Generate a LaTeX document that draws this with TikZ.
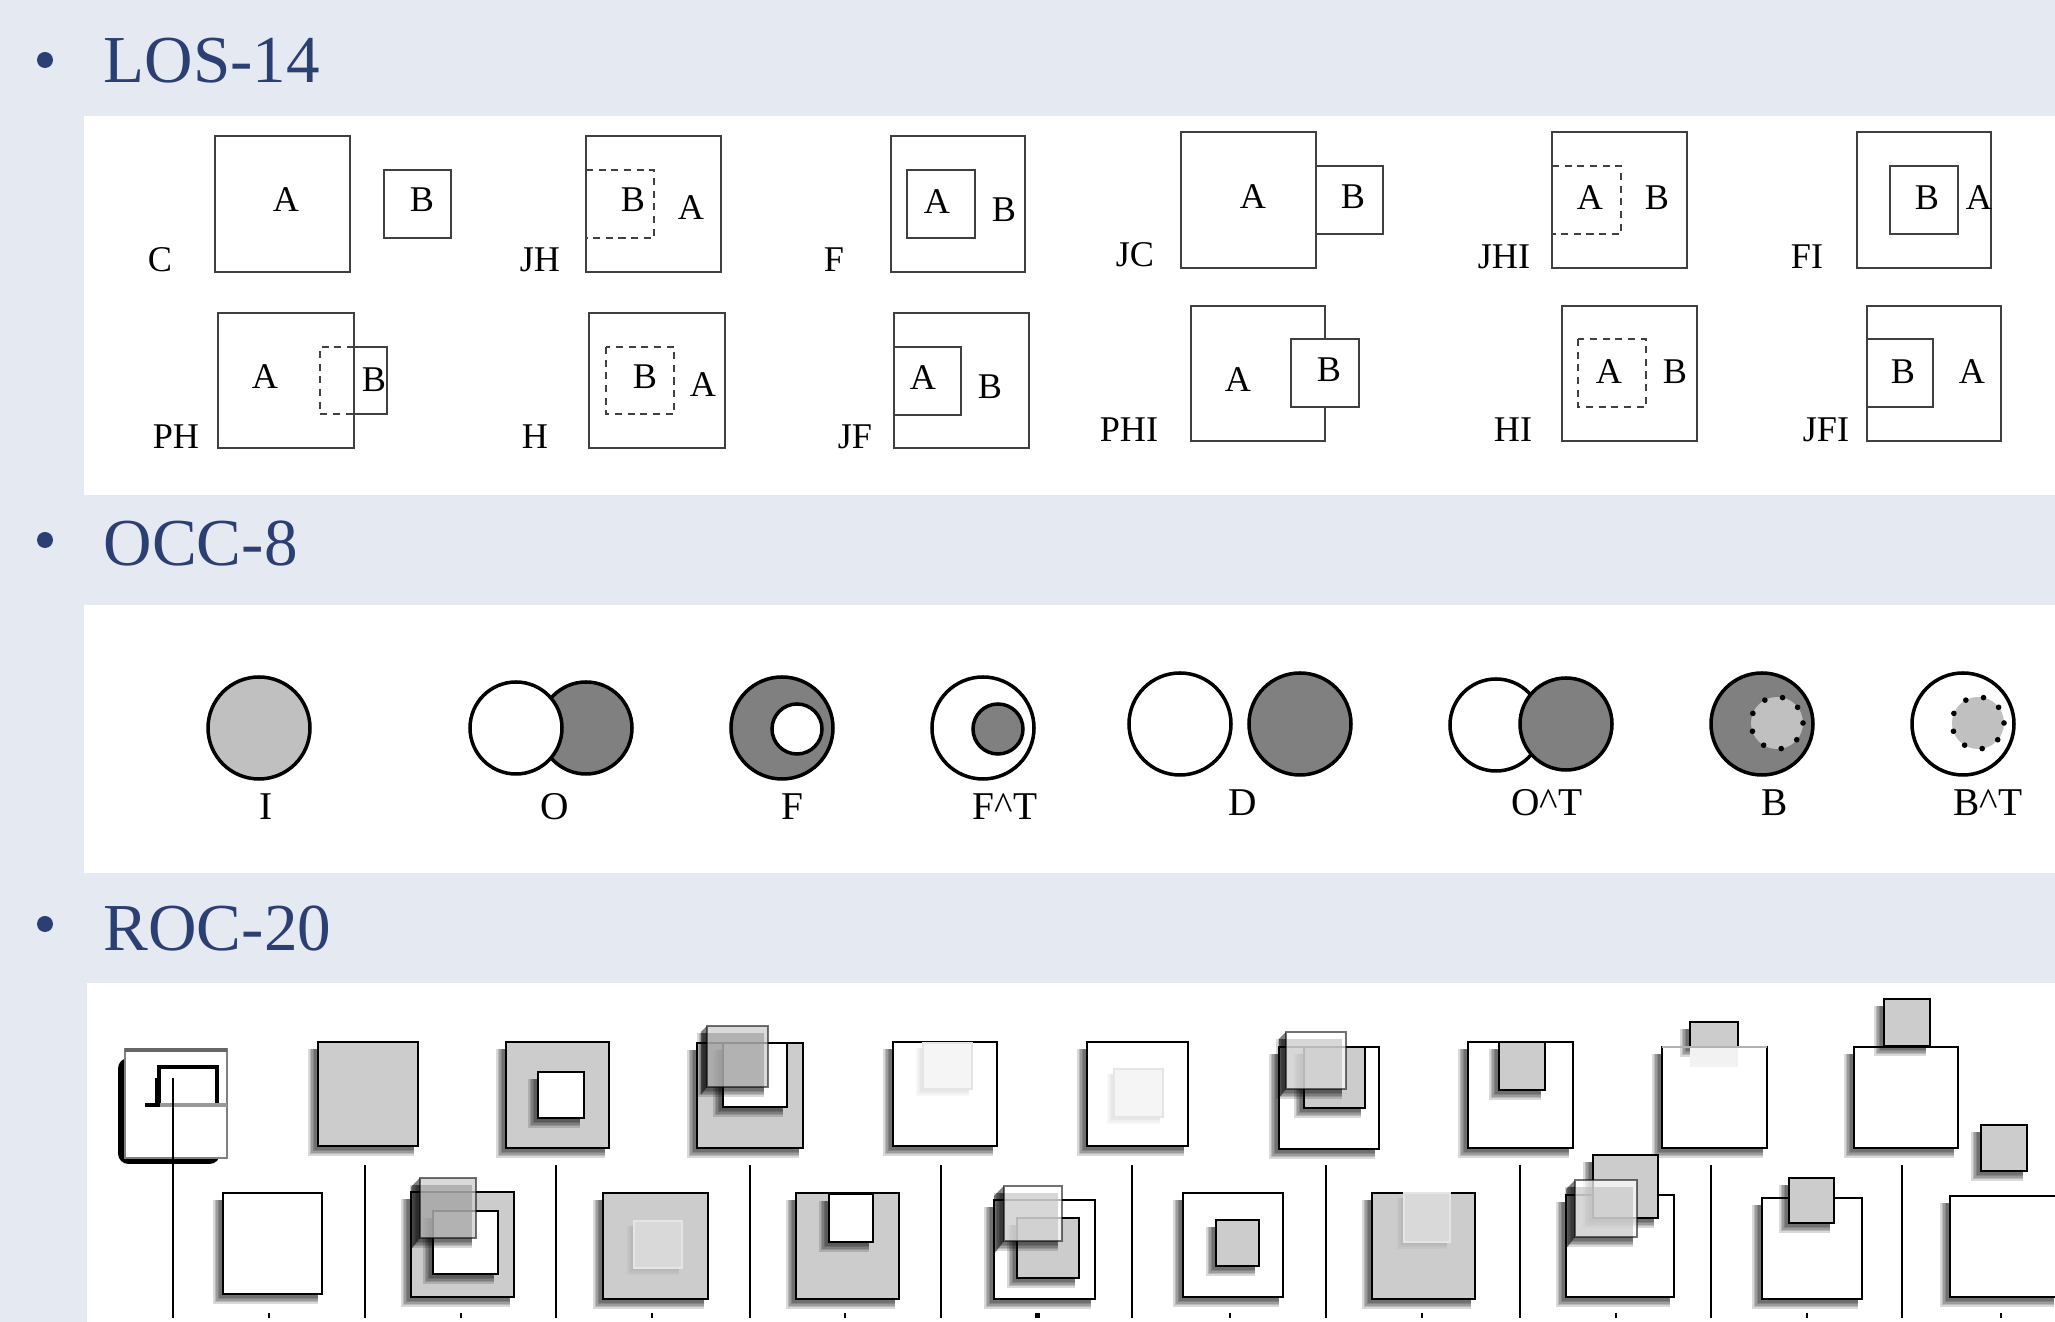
\documentclass[tikz,border=0pt]{standalone}
\usepackage{fontspec}
\setmainfont{Liberation Serif}
\definecolor{bgc}{RGB}{229,233,242}
\definecolor{titlec}{RGB}{43,63,115}
\definecolor{occdark}{RGB}{128,128,128}
\definecolor{occlight}{RGB}{192,192,192}
\definecolor{rgray}{RGB}{204,204,204}
\newcommand\TitleFnt{\fontsize{19.1}{23}\selectfont}
\newcommand\LosFnt{\fontsize{10.3}{12}\selectfont}
\newcommand\OccFnt{\fontsize{11.2}{13}\selectfont}
\newcommand\RShadow[4]{%
  \foreach \k in {0,1.5,3,4.5,6}{%
    \fill[black,opacity=0.15] ({#1-4-\k},{#2+7}) rectangle ({#3-4},{#4+4+\k});
  }%
}
\newcommand\RBox[5][white]{%
  \RShadow{#2}{#3}{#4}{#5}%
  \filldraw[rocline,fill=#1] (#2,#3) rectangle (#4,#5);%
}
\newcommand\RFaint[5][white]{%
  \foreach \k in {0,2,4}{%
    \fill[black,opacity=0.03] ({#2-3-\k},{#3+5}) rectangle ({#4-3},{#5+3+\k});
  }%
  \filldraw[fill=#1,draw=black!10,line width=0.6pt] (#2,#3) rectangle (#4,#5);%
}
\newcommand\RCube[6]{%
  \RShadow{#2}{#3}{#4}{#5}%
  \fill[black,opacity=0.5] (#6,{#3+#2-#6}) -- (#2,#3) -- (#2,#5) -- (#6,{#5+1.3*(#2-#6)}) -- cycle;
  \fill[#1,opacity=0.72] (#2,#3) rectangle (#4,#5);
  \draw[black,opacity=0.55,line width=0.7pt] (#2,#3) rectangle (#4,#5);%
}
\begin{document}
\begin{tikzpicture}[x=0.1mm,y=-0.1mm,
  los/.style={draw=black!75,line width=0.5pt},
  losdash/.style={draw=black!75,line width=0.5pt,dash pattern=on 2pt off 1.6pt},
  lbl/.style={inner sep=0pt,font=\LosFnt},
  occ/.style={draw=black,line width=1pt},
  occdot/.style={draw=black,line width=1.6pt,dash pattern=on 0pt off 5.2pt,line cap=round},
  occlbl/.style={inner sep=0pt,font=\OccFnt},
  titlenode/.style={inner sep=0pt,anchor=base west,text=titlec,font=\TitleFnt},
  rocline/.style={draw=black,line width=0.75pt},
  vline/.style={draw=black,line width=0.8pt},
  tick/.style={draw=black,line width=0.6pt}]
\fill[bgc] (0,0) rectangle (2055,1322);
\useasboundingbox (0,0) rectangle (2055,1322);
% panels
\fill[white] (84,116) rectangle (2055,495);
\fill[white] (84,605) rectangle (2055,873);
\fill[white] (87,983) rectangle (2055,1322);
% titles
\fill[titlec] (45,60) circle[radius=8];
\node[titlenode] (t1) at (103,83) {LOS-14};
\fill[titlec] (45,540) circle[radius=8];
\node[titlenode] (t2) at (103,566) {OCC-8};
\fill[titlec] (45,924) circle[radius=8];
\node[titlenode] (t3) at (103,951) {ROC-20};

% ---------------- LOS-14 ----------------
% C
\draw[los] (215,136) rectangle (350,272);
\draw[los] (384,170) rectangle (451,238);
\node[lbl] (cA) at (286,200) {A};
\node[lbl] (cB) at (422,200) {B};
\node[lbl] (cL) at (160,260) {C};
% JH
\draw[los] (586,136) rectangle (721,272);
\draw[losdash] (586,170) -- (654,170) -- (654,238) -- (586,238);
\node[lbl] (jhB) at (633,200) {B};
\node[lbl] (jhA) at (691,208) {A};
\node[lbl] (jhL) at (540,260) {JH};
% F
\draw[los] (891,136) rectangle (1025,272);
\draw[los] (907,170) rectangle (975,238);
\node[lbl] (fA) at (937,202) {A};
\node[lbl] (fB) at (1004,210) {B};
\node[lbl] (fL) at (834,260) {F};
% JC
\draw[los] (1181,132) rectangle (1316,268);
\draw[los] (1316,166) -- (1383,166) -- (1383,234) -- (1316,234);
\node[lbl] (jcA) at (1253,197) {A};
\node[lbl] (jcB) at (1353,197) {B};
\node[lbl] (jcL) at (1135,255) {JC};
% JHI
\draw[los] (1552,132) rectangle (1687,268);
\draw[losdash] (1552,166) -- (1621,166) -- (1621,234) -- (1552,234);
\node[lbl] (jhiA) at (1590,198) {A};
\node[lbl] (jhiB) at (1657,198) {B};
\node[lbl] (jhiL) at (1504,257) {JHI};
% FI
\draw[los] (1857,132) rectangle (1991,268);
\draw[los] (1890,166) rectangle (1958,234);
\node[lbl] (fiB) at (1927,198) {B};
\node[lbl] (fiA) at (1979,198) {A};
\node[lbl] (fiL) at (1807,257) {FI};
% PH
\draw[los] (218,313) rectangle (354,448);
\draw[losdash] (354,347) -- (320,347) -- (320,414) -- (354,414);
\draw[los] (354,347) -- (387,347) -- (387,414) -- (354,414);
\node[lbl] (phA) at (265,377) {A};
\node[lbl] (phB) at (374,380) {B};
\node[lbl] (phL) at (176,437) {PH};
% H
\draw[los] (589,313) rectangle (725,448);
\draw[losdash] (606,347) rectangle (674,414);
\node[lbl] (hB) at (645,377) {B};
\node[lbl] (hA) at (703,385) {A};
\node[lbl] (hL) at (535,437) {H};
% JF
\draw[los] (894,313) rectangle (1029,448);
\draw[los] (894,347) -- (961,347) -- (961,415) -- (894,415);
\node[lbl] (jfA) at (923,378) {A};
\node[lbl] (jfB) at (990,387) {B};
\node[lbl] (jfL) at (855,437) {JF};
% PHI
\draw[los] (1191,306) rectangle (1325,441);
\filldraw[los,fill=white] (1291,339) rectangle (1359,407);
\node[lbl] (phiA) at (1238,380) {A};
\node[lbl] (phiB) at (1329,370) {B};
\node[lbl] (phiL) at (1129,430) {PHI};
% HI
\draw[los] (1562,306) rectangle (1697,441);
\draw[losdash] (1578,339) rectangle (1646,407);
\node[lbl] (hiA) at (1609,372) {A};
\node[lbl] (hiB) at (1675,372) {B};
\node[lbl] (hiL) at (1513,430) {HI};
% JFI
\draw[los] (1867,306) rectangle (2001,441);
\draw[los] (1867,339) -- (1933,339) -- (1933,407) -- (1867,407);
\node[lbl] (jfiB) at (1903,372) {B};
\node[lbl] (jfiA) at (1972,372) {A};
\node[lbl] (jfiL) at (1826,430) {JFI};

% ---------------- OCC-8 ----------------
\draw[occ,fill=occlight] (259,728) circle[radius=51];
\node[occlbl] (oI) at (266,807) {I};
\draw[occ,fill=occdark] (586,728) circle[radius=46];
\draw[occ,fill=white] (516,728) circle[radius=46];
\node[occlbl] (oO) at (555,807) {O};
\draw[occ,fill=occdark] (782,728) circle[radius=51];
\draw[occ,fill=white] (797,729) circle[radius=25];
\node[occlbl] (oF) at (792,807) {F};
\draw[occ,fill=white] (983,728) circle[radius=51];
\draw[occ,fill=occdark] (998,729) circle[radius=25];
\node[occlbl] (oFT) at (1005,807) {F\textasciicircum T};
\draw[occ,fill=white] (1180,724) circle[radius=51];
\draw[occ,fill=occdark] (1300,724) circle[radius=51];
\node[occlbl] (oD) at (1243,803) {D};
\draw[occ,fill=white] (1496,725) circle[radius=46];
\draw[occ,fill=occdark] (1566,724) circle[radius=46];
\node[occlbl] (oOT) at (1547,803) {O\textasciicircum T};
\draw[occ,fill=occdark] (1762,724) circle[radius=51];
\draw[occdot,fill=occlight] (1777,723) circle[radius=26];
\node[occlbl] (oB) at (1775,803) {B};
\draw[occ,fill=white] (1963,724) circle[radius=51];
\draw[occdot,fill=occlight] (1978,723) circle[radius=26];
\node[occlbl] (oBT) at (1988,803) {B\textasciicircum T};

% ---------------- ROC-20 ----------------
% top row
% 1
\fill[black,rounded corners=3] (118,1058) rectangle (220,1164);
\filldraw[fill=white,draw=black!50,line width=0.8pt] (125,1049) rectangle (227,1158);
\draw[black!60,line width=1.4pt] (125,1050) -- (227,1050);
\draw[black,line width=1.2pt] (145,1105) -- (160,1105);
\fill[black] (155,1078) rectangle (159,1105);
\draw[black,line width=0.9pt] (159,1105) -- (159,1067) -- (217,1067) -- (217,1105);
\draw[black!40,line width=1pt] (160,1105) -- (227,1105);
% 2
\RBox[rgray]{318}{1042}{418}{1146}
% 3
\RBox[rgray]{506}{1042}{609}{1148}
\RBox[white]{538}{1072}{584}{1118}
% 4
\RBox[rgray]{697}{1043}{803}{1148}
\RBox[white]{723}{1043}{787}{1107}
\RCube{rgray}{707}{1026}{768}{1087}{701}
% 5
\RBox[white]{893}{1042}{997}{1146}
\RFaint[black!4]{923}{1043}{972}{1089}
% 6
\RBox[white]{1087}{1042}{1188}{1146}
\RFaint[black!4]{1114}{1069}{1163}{1117}
% 7
\RBox[white]{1279}{1047}{1379}{1149}
\RBox[rgray]{1304}{1047}{1365}{1108}
\RCube{white}{1286}{1032}{1346}{1089}{1279}
% 8
\RBox[white]{1468}{1042}{1573}{1148}
\RBox[rgray]{1499}{1042}{1545}{1090}
% 9
\RBox[white]{1662}{1047}{1767}{1148}
\RShadow{1690}{1022}{1738}{1047}
\fill[rgray] (1690,1022) rectangle (1738,1047);
\draw[rocline] (1690,1047) -- (1690,1022) -- (1738,1022) -- (1738,1047);
\fill[black!5] (1690,1048) rectangle (1738,1067);
\draw[black!30,line width=0.7pt] (1662,1047) -- (1767,1047);
% 10
\RBox[white]{1854}{1047}{1958}{1148}
\RBox[rgray]{1884}{999}{1930}{1046}

% bottom row
% 11
\RBox[white]{223}{1193}{322}{1294}
% 12
\RBox[rgray]{411}{1192}{514}{1297}
\RBox[white]{433}{1211}{498}{1274}
\RCube{rgray}{420}{1178}{476}{1238}{411}
% 13
\RBox[rgray]{603}{1193}{708}{1299}
\RFaint[black!15]{634}{1221}{682}{1268}
% 14
\RBox[rgray]{796}{1193}{899}{1299}
\RBox[white]{829}{1194}{873}{1242}
% 15
\RBox[white]{994}{1200}{1095}{1299}
\RBox[rgray]{1017}{1218}{1079}{1278}
\RCube{white}{1004}{1186}{1062}{1241}{994}
% 16
\RBox[white]{1183}{1193}{1283}{1297}
\RBox[rgray]{1216}{1220}{1259}{1266}
% 17
\RBox[rgray]{1372}{1193}{1475}{1299}
\RFaint[black!15]{1404}{1193}{1450}{1242}
% 18
\RBox[white]{1566}{1195}{1674}{1297}
\RBox[rgray]{1593}{1155}{1658}{1218}
\RCube{white}{1575}{1180}{1637}{1237}{1566}
% 19
\RBox[white]{1762}{1198}{1862}{1299}
\RBox[rgray]{1789}{1178}{1834}{1223}
% 20
\RBox[white]{1950}{1196}{2058}{1297}
\RBox[rgray]{1981}{1125}{2027}{1171}

% separator lines
\draw[vline] (173,1078) -- (173,1318);
\foreach \xx in {365,556,750,941,1132,1326,1520,1711,1902}{
  \draw[vline] (\xx,1165) -- (\xx,1318);
}
\foreach \xx in {269,461,652,845,1230,1422,1616,1807,2001}{
  \draw[tick] (\xx,1313) -- (\xx,1318);
}
\fill[black] (1035,1313) rectangle (1040,1318);
\end{tikzpicture}
\end{document}
